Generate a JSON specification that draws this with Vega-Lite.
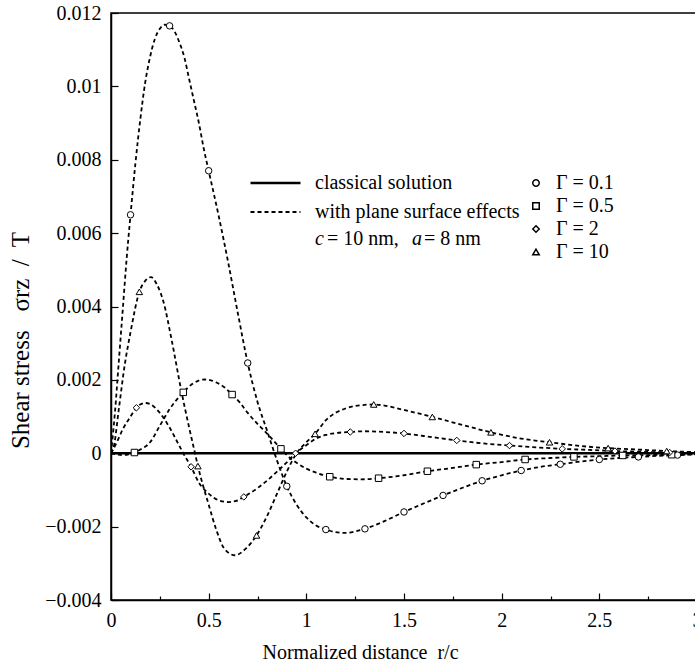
{
  "$schema": "https://vega.github.io/schema/vega-lite/v6.json",
  "width": 586,
  "height": 587,
  "autosize": {"type": "none"},
  "padding": {"left": 111, "top": 13, "right": -2, "bottom": 66},
  "background": "white",
  "config": {
    "font": "Liberation Serif",
    "view": {"stroke": "black", "strokeWidth": 1.5},
    "axis": {
      "domainColor": "black", "domainWidth": 1.5, "tickColor": "black", "tickWidth": 1.2,
      "labelColor": "black", "titleColor": "black", "labelFontSize": 20, "titleFontSize": 20,
      "titleFontWeight": "normal", "grid": false, "labelFlush": false, "labelOverlap": false
    },
    "legend": {"labelFontSize": 20, "labelColor": "black", "labelFont": "Liberation Serif", "labelLimit": 400}
  },
  "datasets": {
    "lines": [
      {"g": "classical", "style": "classical solution", "x": 0, "y": 0},
      {"g": "classical", "style": "classical solution", "x": 3, "y": 0},
      {"g": "Γ = 0.1", "style": "with plane surface effects", "x": 0, "y": 0},
      {"g": "Γ = 0.1", "style": "with plane surface effects", "x": 0.02, "y": 0.0011},
      {"g": "Γ = 0.1", "style": "with plane surface effects", "x": 0.04, "y": 0.0025},
      {"g": "Γ = 0.1", "style": "with plane surface effects", "x": 0.06, "y": 0.0039},
      {"g": "Γ = 0.1", "style": "with plane surface effects", "x": 0.08, "y": 0.0053},
      {"g": "Γ = 0.1", "style": "with plane surface effects", "x": 0.1, "y": 0.0065},
      {"g": "Γ = 0.1", "style": "with plane surface effects", "x": 0.125, "y": 0.0079},
      {"g": "Γ = 0.1", "style": "with plane surface effects", "x": 0.15, "y": 0.0091},
      {"g": "Γ = 0.1", "style": "with plane surface effects", "x": 0.175, "y": 0.0101},
      {"g": "Γ = 0.1", "style": "with plane surface effects", "x": 0.2, "y": 0.0108},
      {"g": "Γ = 0.1", "style": "with plane surface effects", "x": 0.225, "y": 0.0113},
      {"g": "Γ = 0.1", "style": "with plane surface effects", "x": 0.25, "y": 0.01157},
      {"g": "Γ = 0.1", "style": "with plane surface effects", "x": 0.275, "y": 0.01168},
      {"g": "Γ = 0.1", "style": "with plane surface effects", "x": 0.3, "y": 0.01165},
      {"g": "Γ = 0.1", "style": "with plane surface effects", "x": 0.325, "y": 0.0115},
      {"g": "Γ = 0.1", "style": "with plane surface effects", "x": 0.35, "y": 0.0112},
      {"g": "Γ = 0.1", "style": "with plane surface effects", "x": 0.375, "y": 0.0108},
      {"g": "Γ = 0.1", "style": "with plane surface effects", "x": 0.4, "y": 0.0102},
      {"g": "Γ = 0.1", "style": "with plane surface effects", "x": 0.425, "y": 0.0096},
      {"g": "Γ = 0.1", "style": "with plane surface effects", "x": 0.45, "y": 0.009},
      {"g": "Γ = 0.1", "style": "with plane surface effects", "x": 0.475, "y": 0.0083},
      {"g": "Γ = 0.1", "style": "with plane surface effects", "x": 0.5, "y": 0.0077},
      {"g": "Γ = 0.1", "style": "with plane surface effects", "x": 0.55, "y": 0.0065},
      {"g": "Γ = 0.1", "style": "with plane surface effects", "x": 0.6, "y": 0.0052},
      {"g": "Γ = 0.1", "style": "with plane surface effects", "x": 0.65, "y": 0.0038},
      {"g": "Γ = 0.1", "style": "with plane surface effects", "x": 0.7, "y": 0.00246},
      {"g": "Γ = 0.1", "style": "with plane surface effects", "x": 0.75, "y": 0.0014},
      {"g": "Γ = 0.1", "style": "with plane surface effects", "x": 0.8, "y": 0.0006},
      {"g": "Γ = 0.1", "style": "with plane surface effects", "x": 0.85, "y": -0.0002},
      {"g": "Γ = 0.1", "style": "with plane surface effects", "x": 0.9, "y": -0.0009},
      {"g": "Γ = 0.1", "style": "with plane surface effects", "x": 0.95, "y": -0.0014},
      {"g": "Γ = 0.1", "style": "with plane surface effects", "x": 1.0, "y": -0.00175},
      {"g": "Γ = 0.1", "style": "with plane surface effects", "x": 1.05, "y": -0.00197},
      {"g": "Γ = 0.1", "style": "with plane surface effects", "x": 1.1, "y": -0.00208},
      {"g": "Γ = 0.1", "style": "with plane surface effects", "x": 1.15, "y": -0.00215},
      {"g": "Γ = 0.1", "style": "with plane surface effects", "x": 1.2, "y": -0.00217},
      {"g": "Γ = 0.1", "style": "with plane surface effects", "x": 1.25, "y": -0.00213},
      {"g": "Γ = 0.1", "style": "with plane surface effects", "x": 1.3, "y": -0.00206},
      {"g": "Γ = 0.1", "style": "with plane surface effects", "x": 1.4, "y": -0.00185},
      {"g": "Γ = 0.1", "style": "with plane surface effects", "x": 1.5, "y": -0.0016},
      {"g": "Γ = 0.1", "style": "with plane surface effects", "x": 1.6, "y": -0.00137},
      {"g": "Γ = 0.1", "style": "with plane surface effects", "x": 1.7, "y": -0.00115},
      {"g": "Γ = 0.1", "style": "with plane surface effects", "x": 1.8, "y": -0.00094},
      {"g": "Γ = 0.1", "style": "with plane surface effects", "x": 1.9, "y": -0.00075},
      {"g": "Γ = 0.1", "style": "with plane surface effects", "x": 2.0, "y": -0.0006},
      {"g": "Γ = 0.1", "style": "with plane surface effects", "x": 2.1, "y": -0.00047},
      {"g": "Γ = 0.1", "style": "with plane surface effects", "x": 2.2, "y": -0.00037},
      {"g": "Γ = 0.1", "style": "with plane surface effects", "x": 2.3, "y": -0.0003},
      {"g": "Γ = 0.1", "style": "with plane surface effects", "x": 2.4, "y": -0.00023},
      {"g": "Γ = 0.1", "style": "with plane surface effects", "x": 2.5, "y": -0.00017},
      {"g": "Γ = 0.1", "style": "with plane surface effects", "x": 2.6, "y": -0.00013},
      {"g": "Γ = 0.1", "style": "with plane surface effects", "x": 2.7, "y": -0.0001},
      {"g": "Γ = 0.1", "style": "with plane surface effects", "x": 2.8, "y": -0.00007},
      {"g": "Γ = 0.1", "style": "with plane surface effects", "x": 2.9, "y": -0.00005},
      {"g": "Γ = 0.1", "style": "with plane surface effects", "x": 3.0, "y": -0.00003},

      {"g": "Γ = 0.5", "style": "with plane surface effects", "x": 0, "y": 0},
      {"g": "Γ = 0.5", "style": "with plane surface effects", "x": 0.03, "y": -0.00003},
      {"g": "Γ = 0.5", "style": "with plane surface effects", "x": 0.06, "y": -0.00005},
      {"g": "Γ = 0.5", "style": "with plane surface effects", "x": 0.09, "y": -0.00003},
      {"g": "Γ = 0.5", "style": "with plane surface effects", "x": 0.12, "y": 0.00002},
      {"g": "Γ = 0.5", "style": "with plane surface effects", "x": 0.15, "y": 0.0001},
      {"g": "Γ = 0.5", "style": "with plane surface effects", "x": 0.2, "y": 0.0003},
      {"g": "Γ = 0.5", "style": "with plane surface effects", "x": 0.25, "y": 0.00075},
      {"g": "Γ = 0.5", "style": "with plane surface effects", "x": 0.3, "y": 0.0012},
      {"g": "Γ = 0.5", "style": "with plane surface effects", "x": 0.37, "y": 0.00166},
      {"g": "Γ = 0.5", "style": "with plane surface effects", "x": 0.42, "y": 0.0019},
      {"g": "Γ = 0.5", "style": "with plane surface effects", "x": 0.48, "y": 0.00201},
      {"g": "Γ = 0.5", "style": "with plane surface effects", "x": 0.54, "y": 0.00193},
      {"g": "Γ = 0.5", "style": "with plane surface effects", "x": 0.58, "y": 0.0018},
      {"g": "Γ = 0.5", "style": "with plane surface effects", "x": 0.62, "y": 0.0016},
      {"g": "Γ = 0.5", "style": "with plane surface effects", "x": 0.66, "y": 0.00138},
      {"g": "Γ = 0.5", "style": "with plane surface effects", "x": 0.7, "y": 0.0011},
      {"g": "Γ = 0.5", "style": "with plane surface effects", "x": 0.75, "y": 0.0008},
      {"g": "Γ = 0.5", "style": "with plane surface effects", "x": 0.8, "y": 0.00053},
      {"g": "Γ = 0.5", "style": "with plane surface effects", "x": 0.87, "y": 0.00012},
      {"g": "Γ = 0.5", "style": "with plane surface effects", "x": 0.9, "y": -0.00005},
      {"g": "Γ = 0.5", "style": "with plane surface effects", "x": 0.95, "y": -0.00026},
      {"g": "Γ = 0.5", "style": "with plane surface effects", "x": 1.0, "y": -0.00042},
      {"g": "Γ = 0.5", "style": "with plane surface effects", "x": 1.05, "y": -0.00053},
      {"g": "Γ = 0.5", "style": "with plane surface effects", "x": 1.12, "y": -0.00064},
      {"g": "Γ = 0.5", "style": "with plane surface effects", "x": 1.2, "y": -0.0007},
      {"g": "Γ = 0.5", "style": "with plane surface effects", "x": 1.28, "y": -0.00071},
      {"g": "Γ = 0.5", "style": "with plane surface effects", "x": 1.37, "y": -0.00068},
      {"g": "Γ = 0.5", "style": "with plane surface effects", "x": 1.5, "y": -0.0006},
      {"g": "Γ = 0.5", "style": "with plane surface effects", "x": 1.62, "y": -0.00049},
      {"g": "Γ = 0.5", "style": "with plane surface effects", "x": 1.75, "y": -0.0004},
      {"g": "Γ = 0.5", "style": "with plane surface effects", "x": 1.87, "y": -0.00031},
      {"g": "Γ = 0.5", "style": "with plane surface effects", "x": 2.0, "y": -0.00024},
      {"g": "Γ = 0.5", "style": "with plane surface effects", "x": 2.12, "y": -0.00017},
      {"g": "Γ = 0.5", "style": "with plane surface effects", "x": 2.25, "y": -0.00013},
      {"g": "Γ = 0.5", "style": "with plane surface effects", "x": 2.37, "y": -0.0001},
      {"g": "Γ = 0.5", "style": "with plane surface effects", "x": 2.5, "y": -0.00008},
      {"g": "Γ = 0.5", "style": "with plane surface effects", "x": 2.62, "y": -0.00006},
      {"g": "Γ = 0.5", "style": "with plane surface effects", "x": 2.75, "y": -0.00005},
      {"g": "Γ = 0.5", "style": "with plane surface effects", "x": 2.87, "y": -0.00004},
      {"g": "Γ = 0.5", "style": "with plane surface effects", "x": 3.0, "y": -0.00003},

      {"g": "Γ = 2", "style": "with plane surface effects", "x": 0, "y": 0},
      {"g": "Γ = 2", "style": "with plane surface effects", "x": 0.03, "y": 0.0003},
      {"g": "Γ = 2", "style": "with plane surface effects", "x": 0.06, "y": 0.00065},
      {"g": "Γ = 2", "style": "with plane surface effects", "x": 0.1, "y": 0.001},
      {"g": "Γ = 2", "style": "with plane surface effects", "x": 0.13, "y": 0.00124},
      {"g": "Γ = 2", "style": "with plane surface effects", "x": 0.15, "y": 0.00133},
      {"g": "Γ = 2", "style": "with plane surface effects", "x": 0.175, "y": 0.00137},
      {"g": "Γ = 2", "style": "with plane surface effects", "x": 0.2, "y": 0.00134},
      {"g": "Γ = 2", "style": "with plane surface effects", "x": 0.25, "y": 0.0011},
      {"g": "Γ = 2", "style": "with plane surface effects", "x": 0.3, "y": 0.0007},
      {"g": "Γ = 2", "style": "with plane surface effects", "x": 0.35, "y": 0.0002},
      {"g": "Γ = 2", "style": "with plane surface effects", "x": 0.37, "y": 0},
      {"g": "Γ = 2", "style": "with plane surface effects", "x": 0.41, "y": -0.00037},
      {"g": "Γ = 2", "style": "with plane surface effects", "x": 0.45, "y": -0.0008},
      {"g": "Γ = 2", "style": "with plane surface effects", "x": 0.5, "y": -0.0011},
      {"g": "Γ = 2", "style": "with plane surface effects", "x": 0.55, "y": -0.00128},
      {"g": "Γ = 2", "style": "with plane surface effects", "x": 0.6, "y": -0.00133},
      {"g": "Γ = 2", "style": "with plane surface effects", "x": 0.64, "y": -0.0013},
      {"g": "Γ = 2", "style": "with plane surface effects", "x": 0.68, "y": -0.00119},
      {"g": "Γ = 2", "style": "with plane surface effects", "x": 0.75, "y": -0.00095},
      {"g": "Γ = 2", "style": "with plane surface effects", "x": 0.8, "y": -0.00074},
      {"g": "Γ = 2", "style": "with plane surface effects", "x": 0.85, "y": -0.0005},
      {"g": "Γ = 2", "style": "with plane surface effects", "x": 0.9, "y": -0.00025},
      {"g": "Γ = 2", "style": "with plane surface effects", "x": 0.945, "y": 0},
      {"g": "Γ = 2", "style": "with plane surface effects", "x": 1.0, "y": 0.00022},
      {"g": "Γ = 2", "style": "with plane surface effects", "x": 1.05, "y": 0.0004},
      {"g": "Γ = 2", "style": "with plane surface effects", "x": 1.1, "y": 0.0005},
      {"g": "Γ = 2", "style": "with plane surface effects", "x": 1.15, "y": 0.00055},
      {"g": "Γ = 2", "style": "with plane surface effects", "x": 1.225, "y": 0.00058},
      {"g": "Γ = 2", "style": "with plane surface effects", "x": 1.3, "y": 0.0006},
      {"g": "Γ = 2", "style": "with plane surface effects", "x": 1.4, "y": 0.00058},
      {"g": "Γ = 2", "style": "with plane surface effects", "x": 1.5, "y": 0.00054},
      {"g": "Γ = 2", "style": "with plane surface effects", "x": 1.6, "y": 0.00047},
      {"g": "Γ = 2", "style": "with plane surface effects", "x": 1.77, "y": 0.00035},
      {"g": "Γ = 2", "style": "with plane surface effects", "x": 1.9, "y": 0.00027},
      {"g": "Γ = 2", "style": "with plane surface effects", "x": 2.04, "y": 0.00021},
      {"g": "Γ = 2", "style": "with plane surface effects", "x": 2.18, "y": 0.00016},
      {"g": "Γ = 2", "style": "with plane surface effects", "x": 2.31, "y": 0.00012},
      {"g": "Γ = 2", "style": "with plane surface effects", "x": 2.45, "y": 0.00009},
      {"g": "Γ = 2", "style": "with plane surface effects", "x": 2.58, "y": 0.00006},
      {"g": "Γ = 2", "style": "with plane surface effects", "x": 2.72, "y": 0.00004},
      {"g": "Γ = 2", "style": "with plane surface effects", "x": 2.86, "y": 0.00002},
      {"g": "Γ = 2", "style": "with plane surface effects", "x": 3.0, "y": 0.00001},

      {"g": "Γ = 10", "style": "with plane surface effects", "x": 0, "y": 0},
      {"g": "Γ = 10", "style": "with plane surface effects", "x": 0.015, "y": 0.0002},
      {"g": "Γ = 10", "style": "with plane surface effects", "x": 0.04, "y": 0.0012},
      {"g": "Γ = 10", "style": "with plane surface effects", "x": 0.07, "y": 0.0024},
      {"g": "Γ = 10", "style": "with plane surface effects", "x": 0.1, "y": 0.0033},
      {"g": "Γ = 10", "style": "with plane surface effects", "x": 0.145, "y": 0.0044},
      {"g": "Γ = 10", "style": "with plane surface effects", "x": 0.175, "y": 0.0047},
      {"g": "Γ = 10", "style": "with plane surface effects", "x": 0.205, "y": 0.0048},
      {"g": "Γ = 10", "style": "with plane surface effects", "x": 0.235, "y": 0.0046},
      {"g": "Γ = 10", "style": "with plane surface effects", "x": 0.27, "y": 0.0041},
      {"g": "Γ = 10", "style": "with plane surface effects", "x": 0.31, "y": 0.0031},
      {"g": "Γ = 10", "style": "with plane surface effects", "x": 0.36, "y": 0.0017},
      {"g": "Γ = 10", "style": "with plane surface effects", "x": 0.4, "y": 0.0007},
      {"g": "Γ = 10", "style": "with plane surface effects", "x": 0.43, "y": 0},
      {"g": "Γ = 10", "style": "with plane surface effects", "x": 0.445, "y": -0.00035},
      {"g": "Γ = 10", "style": "with plane surface effects", "x": 0.5, "y": -0.0014},
      {"g": "Γ = 10", "style": "with plane surface effects", "x": 0.54, "y": -0.0021},
      {"g": "Γ = 10", "style": "with plane surface effects", "x": 0.58, "y": -0.0026},
      {"g": "Γ = 10", "style": "with plane surface effects", "x": 0.635, "y": -0.00278},
      {"g": "Γ = 10", "style": "with plane surface effects", "x": 0.69, "y": -0.0026},
      {"g": "Γ = 10", "style": "with plane surface effects", "x": 0.745, "y": -0.00224},
      {"g": "Γ = 10", "style": "with plane surface effects", "x": 0.8, "y": -0.0017},
      {"g": "Γ = 10", "style": "with plane surface effects", "x": 0.85, "y": -0.0011},
      {"g": "Γ = 10", "style": "with plane surface effects", "x": 0.9, "y": -0.0005},
      {"g": "Γ = 10", "style": "with plane surface effects", "x": 0.95, "y": 0},
      {"g": "Γ = 10", "style": "with plane surface effects", "x": 1.0, "y": 0.0003},
      {"g": "Γ = 10", "style": "with plane surface effects", "x": 1.045, "y": 0.00053},
      {"g": "Γ = 10", "style": "with plane surface effects", "x": 1.1, "y": 0.0009},
      {"g": "Γ = 10", "style": "with plane surface effects", "x": 1.2, "y": 0.00122},
      {"g": "Γ = 10", "style": "with plane surface effects", "x": 1.3, "y": 0.00132},
      {"g": "Γ = 10", "style": "with plane surface effects", "x": 1.345, "y": 0.00133},
      {"g": "Γ = 10", "style": "with plane surface effects", "x": 1.4, "y": 0.0013},
      {"g": "Γ = 10", "style": "with plane surface effects", "x": 1.5, "y": 0.00118},
      {"g": "Γ = 10", "style": "with plane surface effects", "x": 1.645, "y": 0.00099},
      {"g": "Γ = 10", "style": "with plane surface effects", "x": 1.8, "y": 0.00077},
      {"g": "Γ = 10", "style": "with plane surface effects", "x": 1.945, "y": 0.00057},
      {"g": "Γ = 10", "style": "with plane surface effects", "x": 2.1, "y": 0.0004},
      {"g": "Γ = 10", "style": "with plane surface effects", "x": 2.245, "y": 0.0003},
      {"g": "Γ = 10", "style": "with plane surface effects", "x": 2.4, "y": 0.0002},
      {"g": "Γ = 10", "style": "with plane surface effects", "x": 2.545, "y": 0.00014},
      {"g": "Γ = 10", "style": "with plane surface effects", "x": 2.7, "y": 0.0001},
      {"g": "Γ = 10", "style": "with plane surface effects", "x": 2.845, "y": 0.00006},
      {"g": "Γ = 10", "style": "with plane surface effects", "x": 3.0, "y": 0.00003}
    ],
    "markers": [
      {"g": "Γ = 0.1", "x": 0.1, "y": 0.0065},
      {"g": "Γ = 0.1", "x": 0.3, "y": 0.01165},
      {"g": "Γ = 0.1", "x": 0.5, "y": 0.0077},
      {"g": "Γ = 0.1", "x": 0.7, "y": 0.00246},
      {"g": "Γ = 0.1", "x": 0.9, "y": -0.0009},
      {"g": "Γ = 0.1", "x": 1.1, "y": -0.00208},
      {"g": "Γ = 0.1", "x": 1.3, "y": -0.00206},
      {"g": "Γ = 0.1", "x": 1.5, "y": -0.0016},
      {"g": "Γ = 0.1", "x": 1.7, "y": -0.00115},
      {"g": "Γ = 0.1", "x": 1.9, "y": -0.00075},
      {"g": "Γ = 0.1", "x": 2.1, "y": -0.00047},
      {"g": "Γ = 0.1", "x": 2.3, "y": -0.0003},
      {"g": "Γ = 0.1", "x": 2.5, "y": -0.00017},
      {"g": "Γ = 0.1", "x": 2.7, "y": -0.0001},
      {"g": "Γ = 0.1", "x": 2.9, "y": -0.00005},
      {"g": "Γ = 0.5", "x": 0.12, "y": 0.00002},
      {"g": "Γ = 0.5", "x": 0.37, "y": 0.00166},
      {"g": "Γ = 0.5", "x": 0.62, "y": 0.0016},
      {"g": "Γ = 0.5", "x": 0.87, "y": 0.00012},
      {"g": "Γ = 0.5", "x": 1.12, "y": -0.00064},
      {"g": "Γ = 0.5", "x": 1.37, "y": -0.00068},
      {"g": "Γ = 0.5", "x": 1.62, "y": -0.00049},
      {"g": "Γ = 0.5", "x": 1.87, "y": -0.00031},
      {"g": "Γ = 0.5", "x": 2.12, "y": -0.00017},
      {"g": "Γ = 0.5", "x": 2.37, "y": -0.0001},
      {"g": "Γ = 0.5", "x": 2.62, "y": -0.00006},
      {"g": "Γ = 0.5", "x": 2.87, "y": -0.00004},
      {"g": "Γ = 2", "x": 0.13, "y": 0.00124},
      {"g": "Γ = 2", "x": 0.41, "y": -0.00037},
      {"g": "Γ = 2", "x": 0.68, "y": -0.00119},
      {"g": "Γ = 2", "x": 0.945, "y": 0},
      {"g": "Γ = 2", "x": 1.225, "y": 0.00058},
      {"g": "Γ = 2", "x": 1.5, "y": 0.00054},
      {"g": "Γ = 2", "x": 1.77, "y": 0.00035},
      {"g": "Γ = 2", "x": 2.04, "y": 0.00021},
      {"g": "Γ = 2", "x": 2.31, "y": 0.00012},
      {"g": "Γ = 2", "x": 2.58, "y": 0.00006},
      {"g": "Γ = 2", "x": 2.86, "y": 0.00002},
      {"g": "Γ = 10", "x": 0.145, "y": 0.0044},
      {"g": "Γ = 10", "x": 0.445, "y": -0.00035},
      {"g": "Γ = 10", "x": 0.745, "y": -0.00224},
      {"g": "Γ = 10", "x": 1.045, "y": 0.00053},
      {"g": "Γ = 10", "x": 1.345, "y": 0.00133},
      {"g": "Γ = 10", "x": 1.645, "y": 0.00099},
      {"g": "Γ = 10", "x": 1.945, "y": 0.00057},
      {"g": "Γ = 10", "x": 2.245, "y": 0.0003},
      {"g": "Γ = 10", "x": 2.545, "y": 0.00014},
      {"g": "Γ = 10", "x": 2.845, "y": 0.00006}
    ],
    "annot_italic": [
      {"x": 1.0445, "y": 0.00583, "t": "c"},
      {"x": 1.541, "y": 0.00583, "t": "a"}
    ],
    "annot_plain": [
      {"x": 1.106, "y": 0.00583, "t": "= 10 nm,"},
      {"x": 1.602, "y": 0.00583, "t": "= 8 nm"}
    ]
  },
  "layer": [
    {
      "data": {"name": "lines"},
      "mark": {"type": "line", "color": "black", "interpolate": "monotone", "clip": true},
      "encoding": {
        "x": {
          "field": "x", "type": "quantitative",
          "scale": {"domain": [0, 3], "nice": false, "zero": false},
          "axis": {
            "values": [0, 0.25, 0.5, 0.75, 1, 1.25, 1.5, 1.75, 2, 2.25, 2.5, 2.75, 3],
            "labelExpr": "abs(datum.value*2 - round(datum.value*2)) < 1e-6 ? format(datum.value, '~g') : ''",
            "tickSize": {"condition": {"test": "abs(datum.value*2 - round(datum.value*2)) < 1e-6", "value": -7}, "value": -4},
            "labelPadding": 17,
            "title": "Normalized distance\u00a0 r/c",
            "titleX": 249, "titleY": 52, "titleBaseline": "middle"
          }
        },
        "y": {
          "field": "y", "type": "quantitative",
          "scale": {"domain": [-0.004, 0.012], "nice": false, "zero": false},
          "axis": {
            "values": [-0.004, -0.0035, -0.003, -0.0025, -0.002, -0.0015, -0.001, -0.0005, 0, 0.0005, 0.001, 0.0015, 0.002, 0.0025, 0.003, 0.0035, 0.004, 0.0045, 0.005, 0.0055, 0.006, 0.0065, 0.007, 0.0075, 0.008, 0.0085, 0.009, 0.0095, 0.01, 0.0105, 0.011, 0.0115, 0.012],
            "labelExpr": "abs(datum.value*500 - round(datum.value*500)) < 1e-6 ? format(datum.value, '~g') : ''",
            "tickSize": {"condition": {"test": "abs(datum.value*500 - round(datum.value*500)) < 1e-6", "value": -7}, "value": -4},
            "labelPadding": 17,
            "title": "Shear stress\u00a0\u00a0 σrz\u00a0 /\u00a0 T",
            "titleFontSize": 25,
            "titleX": -91, "titleY": 327, "titleBaseline": "middle"
          }
        },
        "detail": {"field": "g"},
        "strokeDash": {
          "field": "style", "type": "nominal",
          "scale": {"domain": ["classical solution", "with plane surface effects"], "range": [[1, 0], [4, 3]]},
          "legend": {"orient": "none", "legendX": 138, "legendY": 160, "title": null, "symbolType": "stroke", "symbolSize": 2500, "symbolStrokeColor": "black", "labelOffset": 13, "rowPadding": 9, "clipHeight": 20, "labelFontSize": 20}
        },
        "strokeWidth": {
          "field": "style", "type": "nominal",
          "scale": {"domain": ["classical solution", "with plane surface effects"], "range": [2.5, 1.8]},
          "legend": {"orient": "none", "legendX": 138, "legendY": 160, "title": null, "symbolType": "stroke", "symbolSize": 2500, "symbolStrokeColor": "black", "labelOffset": 13, "rowPadding": 9, "clipHeight": 20, "labelFontSize": 20}
        }
      }
    },
    {
      "data": {"name": "markers"},
      "mark": {"type": "point", "filled": true, "fill": "white", "stroke": "black", "strokeWidth": 1, "size": 42, "opacity": 1},
      "encoding": {
        "x": {"field": "x", "type": "quantitative"},
        "y": {"field": "y", "type": "quantitative"},
        "shape": {
          "field": "g", "type": "nominal",
          "scale": {"domain": ["Γ = 0.1", "Γ = 0.5", "Γ = 2", "Γ = 10"], "range": ["circle", "square", "diamond", "triangle-up"]},
          "legend": {
            "orient": "none", "legendX": 415, "legendY": 160, "title": null, "symbolSize": 42,
            "labelOffset": 10, "rowPadding": 3, "labelFontSize": 20,
            "encode": {"symbols": {"update": {"fill": {"value": "white"}, "stroke": {"value": "black"}, "strokeWidth": {"value": 1}, "opacity": {"value": 1}}}}
          }
        }
      }
    },
    {
      "data": {"name": "annot_italic"},
      "mark": {"type": "text", "align": "left", "baseline": "middle", "fontSize": 20, "fontStyle": "italic", "font": "Liberation Serif", "color": "black"},
      "encoding": {
        "x": {"field": "x", "type": "quantitative"},
        "y": {"field": "y", "type": "quantitative"},
        "text": {"field": "t"}
      }
    },
    {
      "data": {"name": "annot_plain"},
      "mark": {"type": "text", "align": "left", "baseline": "middle", "fontSize": 20, "font": "Liberation Serif", "color": "black"},
      "encoding": {
        "x": {"field": "x", "type": "quantitative"},
        "y": {"field": "y", "type": "quantitative"},
        "text": {"field": "t"}
      }
    }
  ]
}
